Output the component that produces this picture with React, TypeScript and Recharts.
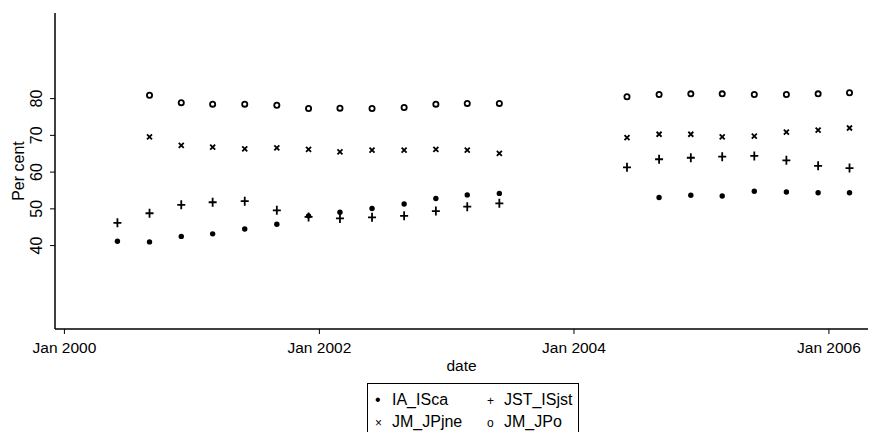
import React from "react";
import {
  ScatterChart,
  Scatter,
  XAxis,
  YAxis,
  Legend,
} from "recharts";

// quarterly observations (first of month)
const dates = [
  "2000-06", "2000-09", "2000-12", "2001-03", "2001-06", "2001-09", "2001-12",
  "2002-03", "2002-06", "2002-09", "2002-12", "2003-03", "2003-06",
  "2004-06", "2004-09", "2004-12", "2005-03", "2005-06", "2005-09", "2005-12", "2006-03",
];

const iaISca = [
  41.2, 41.0, 42.5, 43.2, 44.5, 45.8, 48.1, 49.1, 50.1, 51.3, 52.8, 53.8, 54.2,
  null, 53.1, 53.7, 53.5, 54.8, 54.6, 54.4, 54.4,
];
const jstISjst = [
  46.2, 48.8, 51.1, 51.8, 52.1, 49.6, 47.8, 47.4, 47.7, 48.1, 49.4, 50.6, 51.5,
  61.3, 63.5, 63.9, 64.2, 64.4, 63.2, 61.7, 61.1,
];
const jmJPjne = [
  null, 69.6, 67.3, 66.8, 66.3, 66.6, 66.2, 65.5, 66.0, 66.0, 66.2, 66.0, 65.1,
  69.4, 70.3, 70.3, 69.6, 69.8, 70.9, 71.4, 72.0,
];
const jmJPo = [
  null, 80.9, 78.9, 78.5, 78.5, 78.2, 77.3, 77.4, 77.3, 77.6, 78.5, 78.7, 78.7,
  80.5, 81.1, 81.3, 81.3, 81.1, 81.1, 81.3, 81.6,
];

const xTickDates = ["2000-01", "2002-01", "2004-01", "2006-01"];
const yTicks = [40, 50, 60, 70, 80];

const toTime = (s: string) => {
  const [y, m] = s.split("-").map(Number);
  return Date.UTC(y, m - 1, 1);
};

const FONT = "'Liberation Sans', Arial, Helvetica, sans-serif";
const INK = "#000";

const Dot = ({ cx, cy }: any) => <circle cx={cx} cy={cy} r={2.7} fill={INK} />;
const Plus = ({ cx, cy }: any) => (
  <path
    d={`M${cx - 4},${cy}H${cx + 4}M${cx},${cy - 4.5}V${cy + 4.5}`}
    stroke={INK}
    strokeWidth={1.8}
  />
);
const Cross = ({ cx, cy }: any) => (
  <path
    d={`M${cx - 2.5},${cy - 2.5}L${cx + 2.5},${cy + 2.5}M${cx - 2.5},${cy + 2.5}L${cx + 2.5},${cy - 2.5}`}
    stroke={INK}
    strokeWidth={1.8}
  />
);
const Ring = ({ cx, cy }: any) => (
  <circle cx={cx} cy={cy} r={2.6} fill="none" stroke={INK} strokeWidth={1.8} />
);

const series = [
  { name: "IA_ISca", values: iaISca, shape: Dot },
  { name: "JST_ISjst", values: jstISjst, shape: Plus },
  { name: "JM_JPjne", values: jmJPjne, shape: Cross },
  { name: "JM_JPo", values: jmJPo, shape: Ring },
];

const YTick = ({ x, y, payload }: any) => (
  <text
    x={x}
    y={y}
    transform={`rotate(-90 ${x} ${y})`}
    textAnchor="middle"
    fontFamily={FONT}
    fontSize={16}
    fill={INK}
  >
    {payload.value}
  </text>
);

const legendSymbols: Record<string, string> = {
  IA_ISca: "•",
  JST_ISjst: "+",
  JM_JPjne: "×",
  JM_JPo: "o",
};

const LegendBox = () => (
  <div style={{ position: "relative", width: 879, height: 55 }}>
    <div
      style={{
        position: "absolute",
        left: 367,
        top: 6,
        width: 210,
        height: 60,
        borderTop: "1px solid #000",
        borderLeft: "1px solid #000",
        borderRight: "1px solid #000",
        fontFamily: FONT,
        fontSize: 16,
        color: INK,
      }}
    >
      {series.map((s, i) => (
        <div
          key={s.name}
          style={{
            position: "absolute",
            left: i % 2 === 0 ? 7 : 119,
            top: i < 2 ? 6 : 28,
            whiteSpace: "nowrap",
            lineHeight: "20px",
          }}
        >
          <span style={{ display: "inline-block", width: 17, fontSize: s.name === "IA_ISca" ? 16 : 12 }}>
            {legendSymbols[s.name]}
          </span>
          {s.name}
        </div>
      ))}
    </div>
  </div>
);

export default function App() {
  return (
    <div style={{ position: "absolute", left: 0, top: 0, background: "#fff" }}>
      <ScatterChart
        width={879}
        height={432}
        margin={{ top: 13, right: 11, bottom: 0, left: 0 }}
      >
        <XAxis
          type="number"
          dataKey="t"
          domain={[Date.UTC(1999, 11, 5), Date.UTC(2006, 3, 23)]}
          ticks={xTickDates.map(toTime)}
          tickFormatter={(v: number) => "Jan " + new Date(v).getUTCFullYear()}
          height={48}
          tickSize={5}
          tickMargin={8}
          stroke={INK}
          axisLine={{ stroke: INK, strokeWidth: 1.5 }}
          tickLine={{ stroke: INK }}
          tick={{ fill: INK, fontSize: 15.5, fontFamily: FONT }}
          label={{
            value: "date",
            position: "insideBottom",
            offset: 6,
            fill: INK,
            fontSize: 15.5,
            fontFamily: FONT,
          }}
        />
        <YAxis
          type="number"
          dataKey="v"
          domain={[17.3, 103.3]}
          ticks={yTicks}
          width={55}
          tickSize={5}
          tickMargin={8}
          axisLine={{ stroke: INK, strokeWidth: 1.5 }}
          tickLine={{ stroke: INK }}
          tick={<YTick />}
          label={({ viewBox }: any) => {
            const cy = viewBox.y + viewBox.height / 2;
            return (
              <text
                x={24}
                y={cy}
                transform={`rotate(-90 24 ${cy})`}
                textAnchor="middle"
                fontFamily={FONT}
                fontSize={16}
                fill={INK}
              >
                Per cent
              </text>
            );
          }}
        />
        <Legend verticalAlign="bottom" content={<LegendBox />} wrapperStyle={{ left: 0, width: 879 }} />
        {series.map((s) => (
          <Scatter
            key={s.name}
            name={s.name}
            data={dates
              .map((d, i) => ({ t: toTime(d), v: s.values[i] }))
              .filter((p) => p.v != null)}
            shape={s.shape}
            isAnimationActive={false}
          />
        ))}
      </ScatterChart>
    </div>
  );
}
